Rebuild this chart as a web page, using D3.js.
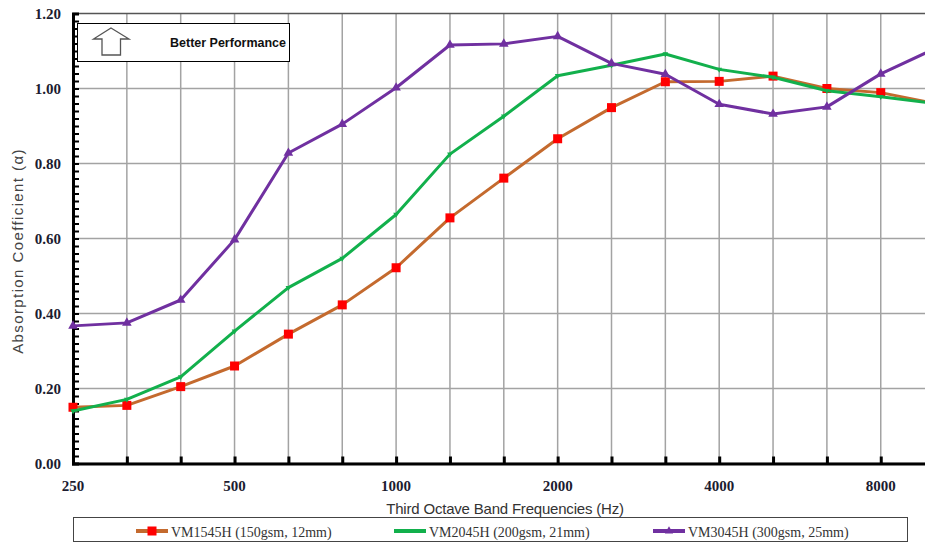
<!DOCTYPE html>
<html>
<head>
<meta charset="utf-8">
<script src="https://d3js.org/d3.v7.min.js"></script>
<style>
  body { margin: 0; background: #fff; }
  svg { display: block; }
</style>
</head>
<body>
<div id="canvas"></div>
<script>
// third octave bands (Hz)
var bands = ["250", "315", "400", "500", "630", "800", "1000", "1250", "1600", "2000",
             "2500", "3150", "4000", "5000", "6300", "8000", "10000"];
var bandLabels = ["250", "500", "1000", "2000", "4000", "8000"];
var yTicks = [0, 0.2, 0.4, 0.6, 0.8, 1.0, 1.2];

var seriesNames = ["VM1545H (150gsm, 12mm)", "VM2045H (200gsm, 21mm)", "VM3045H (300gsm, 25mm)"];
var vm1545 = [0.15, 0.155, 0.205, 0.26, 0.345, 0.423, 0.522, 0.655, 0.761, 0.866, 0.949, 1.018, 1.019, 1.033, 1.0, 0.989, 0.96];
var vm2045 = [0.14, 0.171, 0.231, 0.353, 0.469, 0.547, 0.664, 0.825, 0.926, 1.034, 1.062, 1.092, 1.051, 1.03, 0.994, 0.978, 0.96];
var vm3045 = [0.367, 0.375, 0.436, 0.597, 0.828, 0.905, 1.002, 1.116, 1.119, 1.139, 1.067, 1.038, 0.958, 0.932, 0.951, 1.039, 1.106];

var width = 925, height = 542;

var svgContainer = d3.select("#canvas")
    .append("svg")
    .attr("width", width)
    .attr("height", height);

var x = d3.scalePoint().domain(bands).range([73, 934.6]);
var y = d3.scaleLinear().domain([0, 1.2]).range([463.5, 13.5]);

// grid
svgContainer.append("g").selectAll("line").data(bands).enter().append("line")
    .attr("x1", function (d) { return x(d); })
    .attr("x2", function (d) { return x(d); })
    .attr("y1", y(1.2))
    .attr("y2", y(0))
    .attr("stroke", "#a3a3a3")
    .attr("stroke-width", 1.5);

svgContainer.append("g").selectAll("line").data(yTicks).enter().append("line")
    .attr("x1", 73)
    .attr("x2", width)
    .attr("y1", function (d) { return y(d); })
    .attr("y2", function (d) { return y(d); })
    .attr("stroke", function (d) { return d === 1.2 ? "#555" : "#a3a3a3"; })
    .attr("stroke-width", 1.5);

// y axis with minor ticks inside
var yAxis = svgContainer.append("g")
    .attr("transform", "translate(73,0)")
    .call(d3.axisRight(y).tickValues(d3.range(0, 1.2001, 0.02)).tickSize(6).tickFormat(""));
yAxis.select(".domain").attr("stroke", "#000").attr("stroke-width", 3);
yAxis.selectAll(".tick line").attr("stroke", "#000").attr("stroke-width", 2);

svgContainer.append("g").selectAll("text").data(yTicks).enter().append("text")
    .attr("x", 61)
    .attr("y", function (d) { return y(d); })
    .attr("dy", "0.35em")
    .attr("text-anchor", "end")
    .style("font-family", "'Liberation Serif', 'Times New Roman', serif")
    .style("font-weight", "bold")
    .style("font-size", "15px")
    .style("fill", "#1c1c30")
    .text(function (d) { return d.toFixed(2); });

// x axis, ticks pointing up
var xAxis = svgContainer.append("g")
    .attr("transform", "translate(0," + y(0) + ")")
    .call(d3.axisTop(x).tickSize(7).tickFormat(""));
xAxis.select(".domain").attr("stroke", "#000").attr("stroke-width", 3);
xAxis.selectAll(".tick line").attr("stroke", "#000").attr("stroke-width", 3);

svgContainer.append("g").selectAll("text").data(bandLabels).enter().append("text")
    .attr("x", function (d) { return x(d); })
    .attr("y", 491)
    .attr("text-anchor", "middle")
    .style("font-family", "'Liberation Serif', 'Times New Roman', serif")
    .style("font-weight", "bold")
    .style("font-size", "15px")
    .style("fill", "#1c1c30")
    .text(function (d) { return d; });

// axis titles
svgContainer.append("text")
    .attr("x", 505)
    .attr("y", 514)
    .attr("text-anchor", "middle")
    .style("font-family", "'Liberation Sans', Arial, sans-serif")
    .style("font-size", "15px")
    .style("letter-spacing", "-0.2px")
    .style("fill", "#333")
    .text("Third Octave Band Frequencies (Hz)");

svgContainer.append("text")
    .attr("transform", "translate(23,251) rotate(-90)")
    .attr("text-anchor", "middle")
    .style("font-family", "'Liberation Sans', Arial, sans-serif")
    .style("font-size", "15px")
    .style("letter-spacing", "1.4px")
    .style("fill", "#444")
    .text("Absorption Coefficient (\u03b1)");

// series
var colors = ["#c46a2e", "#12b04c", "#7030a0"];
var allSeries = [vm1545, vm2045, vm3045];

var line = d3.line()
    .x(function (d, i) { return x(bands[i]); })
    .y(function (d) { return y(d); });

var tri = d3.symbol().type(d3.symbolTriangle);

allSeries.forEach(function (vals, s) {
    svgContainer.append("path")
        .datum(vals)
        .attr("d", line)
        .attr("fill", "none")
        .attr("stroke", colors[s])
        .attr("stroke-width", 3)
        .attr("stroke-linejoin", "round");

    var pts = svgContainer.append("g").selectAll("path").data(vals).enter();
    if (s === 0) {
        pts.append("rect")
            .attr("x", function (d, i) { return x(bands[i]) - 4.5; })
            .attr("y", function (d) { return y(d) - 4.5; })
            .attr("width", 9)
            .attr("height", 9)
            .attr("fill", "#ff0000");
    } else if (s === 1) {
        pts.append("path")
            .attr("d", tri.size(14)())
            .attr("transform", function (d, i) { return "translate(" + x(bands[i]) + "," + y(d) + ") rotate(180)"; })
            .attr("fill", colors[1]);
    } else {
        pts.append("path")
            .attr("d", tri.size(40)())
            .attr("transform", function (d, i) { return "translate(" + x(bands[i]) + "," + y(d) + ")"; })
            .attr("fill", colors[2]);
    }
});

// "Better Performance" note
svgContainer.append("rect")
    .attr("x", 77.5).attr("y", 23.5).attr("width", 212).attr("height", 38)
    .attr("fill", "#fff").attr("stroke", "#000").attr("stroke-width", 1);
svgContainer.append("path")
    .attr("d", "M111,28 L129,39 L120.5,39 L120.5,55 L102,55 L102,39 L93.5,39 Z")
    .attr("fill", "#fff").attr("stroke", "#555").attr("stroke-width", 1.3);
svgContainer.append("text")
    .attr("x", 286).attr("y", 47)
    .attr("text-anchor", "end")
    .style("font-family", "'Liberation Sans', Arial, sans-serif")
    .style("font-weight", "bold")
    .style("font-size", "12.5px")
    .style("fill", "#111")
    .text("Better Performance");

// legend
svgContainer.append("rect")
    .attr("x", 73.5).attr("y", 517.5).attr("width", 834).attr("height", 24)
    .attr("fill", "#fff").attr("stroke", "#444").attr("stroke-width", 1);

var legendX = [136, 394, 653];
var leg = svgContainer.append("g").selectAll("g").data(seriesNames).enter().append("g")
    .attr("transform", function (d, i) { return "translate(" + legendX[i] + ",531)"; });
leg.append("line")
    .attr("x1", 0).attr("x2", 32).attr("y1", 0).attr("y2", 0)
    .attr("stroke", function (d, i) { return colors[i]; })
    .attr("stroke-width", 4);
leg.filter(function (d, i) { return i === 0; }).append("rect")
    .attr("x", 11.5).attr("y", -4.5).attr("width", 9).attr("height", 9).attr("fill", "#ff0000");
leg.filter(function (d, i) { return i === 2; }).append("path")
    .attr("d", tri.size(30)())
    .attr("transform", "translate(16,0)")
    .attr("fill", colors[2]);
leg.append("text")
    .attr("x", 35).attr("y", 5.5)
    .style("font-family", "'Liberation Serif', 'Times New Roman', serif")
    .style("font-size", "14px")
    .style("fill", "#333")
    .text(function (d) { return d; });
</script>
</body>
</html>
